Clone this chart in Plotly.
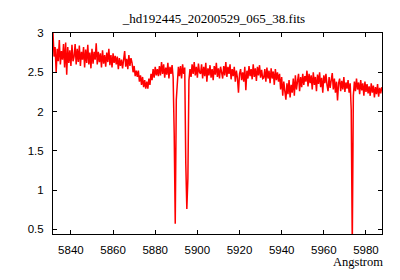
import numpy as np
import plotly.graph_objects as go

# Wavelength grid (Angstrom), evenly sampled spectrum
wl_start = 5831.5
wl_step = 0.5

flux = [
    # 5831.5 - 5841.0
    3.00, 2.70, 2.82, 2.50, 2.80, 2.64, 2.91, 2.60, 2.77, 2.66, 2.86, 2.56, 2.88, 2.47, 2.82, 2.62, 2.78, 2.58, 2.85, 2.64,
    # 5841.5 - 5851.0
    2.70, 2.86, 2.60, 2.80, 2.63, 2.84, 2.58, 2.76, 2.66, 2.82, 2.56, 2.79, 2.62, 2.85, 2.60, 2.75, 2.55, 2.80, 2.61, 2.76,
    # 5851.5 - 5861.0
    2.66, 2.87, 2.60, 2.76, 2.63, 2.74, 2.56, 2.78, 2.61, 2.72, 2.57, 2.75, 2.63, 2.80, 2.59, 2.72, 2.56, 2.74, 2.62, 2.71,
    # 5861.5 - 5871.0
    2.60, 2.70, 2.54, 2.68, 2.58, 2.66, 2.55, 2.68, 2.77, 2.57, 2.67, 2.54, 2.72, 2.58, 2.68, 2.62, 2.50, 2.58, 2.45, 2.52,
    # 5871.5 - 5881.0
    2.44, 2.52, 2.38, 2.46, 2.34, 2.44, 2.31, 2.40, 2.29, 2.38, 2.29, 2.42, 2.34, 2.48, 2.40, 2.54, 2.43, 2.57, 2.46, 2.54,
    # 5881.5 - 5891.0 (Na D2)
    2.45, 2.58, 2.46, 2.63, 2.48, 2.60, 2.43, 2.56, 2.47, 2.62, 2.42, 2.57, 2.48, 2.59, 2.44, 1.73, 0.57, 2.15, 2.46, 2.57,
    # 5891.5 - 5901.0 (Na D1)
    2.45, 2.58, 2.42, 2.60, 2.48, 2.56, 1.34, 0.76, 1.15, 2.40, 2.54, 2.44, 2.60, 2.48, 2.63, 2.46, 2.57, 2.43, 2.61, 2.50,
    # 5901.5 - 5911.0
    2.48, 2.60, 2.42, 2.57, 2.45, 2.62, 2.38, 2.55, 2.46, 2.59, 2.43, 2.54, 2.40, 2.58, 2.47, 2.62, 2.44, 2.55, 2.42, 2.57,
    # 5911.5 - 5921.0
    2.50, 2.42, 2.58, 2.46, 2.63, 2.44, 2.57, 2.48, 2.60, 2.41, 2.54, 2.45, 2.57, 2.38, 2.52, 2.43, 2.24, 2.48, 2.54, 2.40,
    # 5921.5 - 5931.0
    2.50, 2.38, 2.57, 2.27, 2.52, 2.42, 2.58, 2.45, 2.54, 2.41, 2.60, 2.44, 2.55, 2.39, 2.57, 2.46, 2.59, 2.43, 2.53, 2.42,
    # 5931.5 - 5941.0
    2.43, 2.54, 2.38, 2.56, 2.42, 2.52, 2.36, 2.55, 2.42, 2.51, 2.34, 2.54, 2.40, 2.50, 2.38, 2.48, 2.28, 2.44, 2.20, 2.38,
    # 5941.5 - 5951.0
    2.26, 2.15, 2.36, 2.22, 2.40, 2.18, 2.34, 2.24, 2.42, 2.20, 2.46, 2.28, 2.38, 2.48, 2.26, 2.44, 2.31, 2.48, 2.34, 2.45,
    # 5951.5 - 5961.0
    2.38, 2.52, 2.32, 2.48, 2.36, 2.46, 2.28, 2.50, 2.34, 2.44, 2.26, 2.47, 2.35, 2.50, 2.31, 2.43, 2.24, 2.46, 2.36, 2.48,
    # 5961.5 - 5971.0
    2.34, 2.26, 2.44, 2.30, 2.40, 2.49, 2.28, 2.42, 2.24, 2.38, 2.14, 2.36, 2.42, 2.26, 2.39, 2.28, 2.44, 2.25, 2.37, 2.29,
    # 5971.5 - 5981.0
    2.40, 2.24, 2.36, 2.02, 0.30, 2.20, 2.38, 2.26, 2.42, 2.28, 2.37, 2.22, 2.40, 2.27, 2.36, 2.20, 2.38, 2.25, 2.35, 2.23,
    # 5981.5 - 5987.5
    2.32, 2.20, 2.36, 2.24, 2.33, 2.18, 2.31, 2.22, 2.35, 2.19, 2.30, 2.23, 2.31,
]

wavelength = wl_start + wl_step * np.arange(len(flux))

x_ticks = [5840, 5860, 5880, 5900, 5920, 5940, 5960, 5980]
y_ticks = [0.5, 1, 1.5, 2, 2.5, 3]
y_tick_labels = ["0.5", "1", "1.5", "2", "2.5", "3"]

title_text = "_hd192445_20200529_065_38.fits"
x_label = "Angstrom"

fig = go.Figure()
fig.add_trace(go.Scatter(
    x=wavelength, y=flux, mode="lines",
    line=dict(color="#ff0000", width=1.5),
    showlegend=False, hoverinfo="skip",
))

axis_common = dict(
    showline=True, linecolor="black", linewidth=1,
    ticks="inside", ticklen=4, tickcolor="black", tickwidth=1,
    mirror="allticks", showgrid=False, zeroline=False,
    tickfont=dict(family="Liberation Sans", size=11.5, color="black"),
)

fig.update_layout(
    width=400, height=280,
    margin=dict(l=53, r=18, t=33, b=46),
    paper_bgcolor="white", plot_bgcolor="white",
    title=dict(text=title_text, x=0.535, xanchor="center", y=0.935, yanchor="middle",
               font=dict(family="Liberation Serif", size=13, color="black")),
    xaxis=dict(range=[5831.5, 5987.6], tickvals=x_ticks, ticklabelstandoff=5, **axis_common),
    yaxis=dict(range=[0.44, 3.0], tickvals=y_ticks, ticktext=y_tick_labels,
               ticklabelstandoff=6, **axis_common),
    annotations=[dict(text=x_label, xref="paper", yref="paper", x=1.01, y=-0.14,
                      xanchor="right", yanchor="middle", showarrow=False,
                      font=dict(family="Liberation Serif", size=12.5, color="black"))],
)

fig.write_html("out.html")
